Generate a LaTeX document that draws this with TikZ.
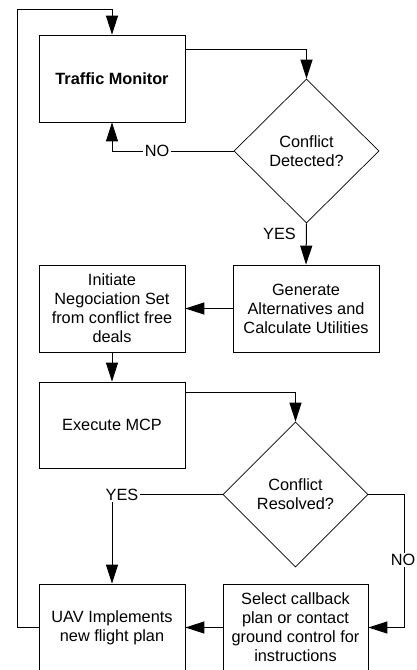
\documentclass[tikz,border=0pt]{standalone}
\usepackage{fontspec}
\setmainfont{Liberation Sans}
\usetikzlibrary{arrows.meta,shapes.geometric}
\begin{document}
\begin{tikzpicture}[x=1pt,y=-1pt,
  font=\fontsize{16.3}{19}\selectfont,
  box/.style={draw,line width=0.7pt,rectangle,inner sep=0pt,align=center},
  dec/.style={draw,line width=0.7pt,diamond,inner sep=0pt,align=center,aspect=1},
  arr/.style={line width=1pt,-{Triangle[length=19pt,width=12pt]}},
  ln/.style={line width=1pt},
  lbl/.style={fill=white,inner sep=1.5pt}]
\useasboundingbox (0,0) rectangle (417,670);
\clip (0,0) rectangle (417,670);
\fill[white] (0,0) rectangle (417,670);
% nodes
\node[box,minimum width=146pt,minimum height=87pt] (tm) at (112,78.5) {\textbf{Traffic Monitor}};
\node[dec,minimum width=145pt,minimum height=144pt] (d1) at (306.5,151) {Conflict\\Detected?};
\node[box,minimum width=146pt,minimum height=87pt] (gen) at (306,308.5) {Generate\\Alternatives and\\Calculate Utilities};
\node[box,minimum width=146pt,minimum height=87pt] (ini) at (112,308.5) {Initiate\\Negociation Set\\from conflict free\\deals};
\node[box,minimum width=146pt,minimum height=86pt] (exe) at (112,425) {Execute MCP};
\node[dec,minimum width=145pt,minimum height=145pt] (d2) at (295.5,494.5) {Conflict\\Resolved?};
\node[box,minimum width=146pt,minimum height=87pt] (uav) at (112,627.5) {UAV Implements\\new flight plan};
\node[box,minimum width=145pt,minimum height=87pt] (sel) at (295.5,627.5) {Select callback\\plan or contact\\ground control for\\instructions};
% helper coordinates
\coordinate (lt) at (17,9);
\coordinate (r2) at (404,494.5);
% connectors
\draw[arr] (uav.west) -| (lt) -| (tm.north);
\draw[arr] ([yshift=-15pt]tm.north east) -| (d1.north);
\draw[arr] (d1.west) -| (tm.south);
\node[lbl] (no1) at (157,151) {NO};
\draw[arr] (d1.south) -- (gen.north);
\node (yes1) at (279.5,234) {YES};
\draw[arr] (gen.west) -- (ini.east);
\draw[arr] (ini.south) -- (exe.north);
\draw[arr] ([yshift=-11pt]exe.north east) -| (d2.north);
\draw[arr] (d2.west) -| (uav.north);
\node[lbl,inner sep=2pt] (yes2) at (122,494.5) {YES};
\draw[arr] (d2.east) -- (r2) |- (sel.east);
\node[lbl] (no2) at (403,560) {NO};
\draw[arr] (sel.west) -- (uav.east);
\end{tikzpicture}
\end{document}
